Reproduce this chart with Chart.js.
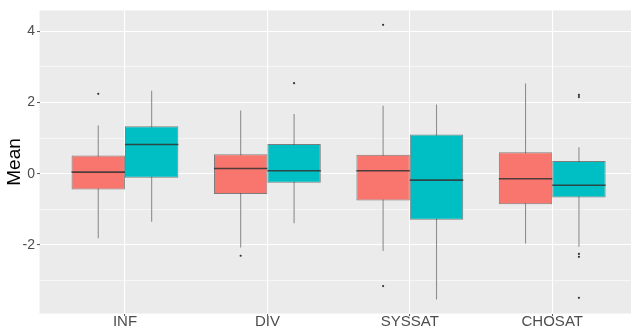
<!DOCTYPE html>
<html>
<head>
<meta charset="utf-8">
<script src="https://cdn.jsdelivr.net/npm/chart.js@4"></script>
<style>
  html, body { margin: 0; padding: 0; background: #ffffff; }
  #wrap { width: 635px; height: 330px; }
</style>
</head>
<body>
<div id="wrap"><canvas id="myChart"></canvas></div>
<script>
// categories on the x axis
const categories = ["INF", "DIV", "SYSSAT", "CHOSAT"];

// red group (first fill)
const redLower = [-1.81, -2.07, -2.17, -1.955];
const redQ1 = [-0.445, -0.566, -0.75, -0.853];
const redMedian = [0.045, 0.147, 0.083, -0.14];
const redQ3 = [0.51, 0.545, 0.53, 0.6];
const redUpper = [1.35, 1.77, 1.905, 2.53];
const redOutliers = [[2.24], [-2.3], [4.175, -3.15], []];

// teal group (second fill)
const tealLower = [-1.35, -1.39, -3.53, -2.05];
const tealQ1 = [-0.11, -0.25, -1.29, -0.667];
const tealMedian = [0.82, 0.083, -0.18, -0.325];
const tealQ3 = [1.33, 0.83, 1.1, 0.36];
const tealUpper = [2.33, 1.675, 1.94, 0.74];
const tealOutliers = [[], [2.54], [], [2.21, 2.15, -2.25, -2.33, -3.48]];

// y axis ticks
const yTicks = [-3, -2, -1, 0, 1, 2, 3, 4];

const catPct = 0.75;
const dodge = catPct / 4;

const boxData = (q1, q3) => categories.map((c, i) => ({ x: i + 1, y: [q1[i], q3[i]] }));
const outlierData = (list, side) => {
  const pts = [];
  list.forEach((vals, i) => vals.forEach(v => pts.push({ x: i + 1 + side * dodge, y: v })));
  return pts;
};

const medians = { red: redMedian, teal: tealMedian };

const panelBg = {
  id: "panelBg",
  beforeDraw(chart) {
    const { ctx, chartArea: a } = chart;
    ctx.save();
    ctx.fillStyle = "#EBEBEB";
    ctx.fillRect(a.left, a.top, a.right - a.left, a.bottom - a.top);
    ctx.restore();
  },
};

// median lines across each box
const medianLines = {
  id: "medianLines",
  afterDatasetsDraw(chart) {
    const ctx = chart.ctx;
    const y = chart.scales.y;
    chart.data.datasets.forEach((ds, di) => {
      if (!ds.medianKey) return;
      const meta = chart.getDatasetMeta(di);
      const vals = medians[ds.medianKey];
      meta.data.forEach((bar, i) => {
        const py = y.getPixelForValue(vals[i]);
        ctx.save();
        ctx.strokeStyle = "rgba(51,51,51,0.85)";
        ctx.lineWidth = 1.6;
        ctx.beginPath();
        ctx.moveTo(bar.x - bar.width / 2, py);
        ctx.lineTo(bar.x + bar.width / 2, py);
        ctx.stroke();
        ctx.restore();
      });
    });
  },
};

const ctx = document.getElementById("myChart");

new Chart(ctx, {
  type: "bar",
  data: {
    datasets: [
      {
        type: "scatter",
        data: outlierData(redOutliers, -1).concat(outlierData(tealOutliers, 1)),
        pointRadius: 1.1,
        pointBackgroundColor: "#333333",
        pointBorderWidth: 0,
        order: -1,
      },
      {
        data: boxData(redQ1, redQ3),
        backgroundColor: "#F8766D",
        borderColor: "rgba(51,51,51,0.6)",
        borderWidth: 1,
        borderSkipped: false,
        stack: "red",
        medianKey: "red",
        order: 0,
      },
      {
        data: boxData(tealQ1, tealQ3),
        backgroundColor: "#00BFC4",
        borderColor: "rgba(51,51,51,0.6)",
        borderWidth: 1,
        borderSkipped: false,
        stack: "teal",
        medianKey: "teal",
        order: 1,
      },
      {
        data: boxData(redLower, redUpper),
        backgroundColor: "#8C8C8C",
        barPercentage: 0.02,
        stack: "red",
        order: 2,
      },
      {
        data: boxData(tealLower, tealUpper),
        backgroundColor: "#8C8C8C",
        barPercentage: 0.02,
        stack: "teal",
        order: 3,
      },
    ],
  },
  options: {
    responsive: true,
    maintainAspectRatio: false,
    animation: false,
    categoryPercentage: catPct,
    barPercentage: 1,
    layout: { padding: { top: 7.5, left: 0, right: 0, bottom: 0 } },
    plugins: { legend: { display: false }, tooltip: { enabled: false } },
    scales: {
      x: {
        type: "linear",
        min: 0.4,
        max: 4.553,
        offset: false,
        border: { display: false },
        grid: {
          offset: false,
          color: "#FFFFFF",
          lineWidth: 1.1,
          tickColor: "#555555",
          tickLength: 2.5,
          tickWidth: 1,
        },
        afterBuildTicks: (s) => { s.ticks = categories.map((c, i) => ({ value: i + 1 })); },
        afterFit: (s) => { s.height = 16.5; },
        ticks: {
          autoSkip: false,
          maxRotation: 0,
          padding: -3,
          color: "#4D4D4D",
          font: { family: "Liberation Sans", size: 15 },
          callback: (v) => categories[v - 1],
        },
      },
      y: {
        stacked: false,
        min: -3.92,
        max: 4.58,
        border: { display: false },
        grid: {
          color: "#FFFFFF",
          lineWidth: (c) => (c.tick && c.tick.value % 2 === 0 ? 1.1 : 0.55),
          tickColor: (c) => (c.tick && c.tick.value % 2 === 0 ? "#555555" : "rgba(0,0,0,0)"),
          tickLength: 2.5,
          tickWidth: 1,
        },
        afterBuildTicks: (s) => { s.ticks = yTicks.map(v => ({ value: v })); },
        afterFit: (s) => { s.width = 39.5; },
        ticks: {
          padding: 2,
          color: "#4D4D4D",
          font: { family: "Liberation Sans", size: 14 },
          callback: (v) => (v % 2 === 0 ? String(v) : ""),
        },
        title: {
          display: true,
          text: "Mean",
          color: "#000000",
          padding: { top: 3.5, bottom: 0 },
          font: { family: "Liberation Sans", size: 19 },
        },
      },
    },
  },
  plugins: [panelBg, medianLines],
});
</script>
</body>
</html>
